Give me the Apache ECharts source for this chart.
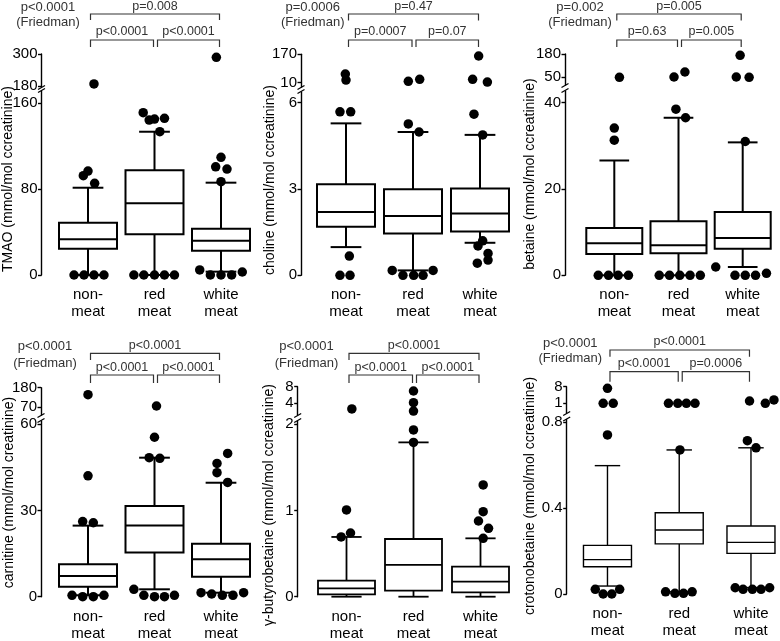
<!DOCTYPE html>
<html>
<head>
<meta charset="utf-8">
<title>Urinary TMAO and precursors by diet</title>
<script src="https://cdn.jsdelivr.net/npm/echarts@6/dist/echarts.min.js"></script>
<style>
  html, body { margin: 0; padding: 0; background: #fff; }
  #main { width: 780px; height: 641px; }
</style>
</head>
<body>
<div id="main"></div>
<script>
var FONT = "'Liberation Sans', Arial, Helvetica, sans-serif";
var groups = ['non-\nmeat', 'red\nmeat', 'white\nmeat'];

// box rows per group: [lower whisker, Q1, median, Q3, upper whisker]
// outliers per group: [horizontal spread around the group, value]
var tmaoBox = [[0, 24.5, 33.2, 48.7, 81.2], [0, 37.9, 66.7, 97.4, 133.3], [3.1, 22.6, 31.9, 43.1, 85.9]];
var tmaoOut = [
  [[-0.21, 0], [-0.06, 0], [0.09, 0], [0.24, 0], [-0.07, 92.4], [0, 96.7], [0.10, 85.3]],
  [[-0.31, 0], [-0.16, 0], [0, 0], [0.15, 0], [0.30, 0], [-0.17, 151], [-0.08, 144.2], [0, 145.1], [0.15, 145.8], [0.08, 133.3]],
  [[-0.32, 4.7], [-0.16, 0], [0, 0], [0.16, 0], [0.32, 2.8], [-0.08, 100.7], [0, 109.5], [0.09, 98.6], [0, 86.8]]
];
var tmaoTop = [[[0.09, 187.5]], [], [[-0.07, 287.6]]];

var cholineBox = [[0.98, 1.69, 2.2, 3.16, 5.28], [0.17, 1.45, 2.06, 2.99, 4.98], [1.13, 1.52, 2.15, 3.02, 4.88]];
var cholineOut = [
  [[0.05, 0.67], [-0.09, 0], [0.06, 0], [-0.09, 5.68], [0.07, 5.68]],
  [[-0.07, 5.26], [0.09, 4.98], [-0.31, 0.17], [-0.15, 0], [0.01, 0], [0.15, 0], [0.30, 0.17]],
  [[-0.09, 5.6], [0.04, 4.88], [0.04, 1.2], [-0.03, 1.02], [0.12, 0.76], [0.12, 0.53], [-0.04, 0.42]]
];
var cholineTop = [[[-0.01, 59], [0, 25.2]], [[-0.07, 17.9], [0.10, 29.2]], [[-0.02, 160.4], [-0.11, 29.2], [0.11, 13.9]]];

var betaineBox = [[0, 4.94, 7.4, 10.96, 26.6], [0, 5.1, 6.95, 12.5, 36.5], [1.92, 6.17, 8.64, 14.67, 30.8]];
var betaineOut = [
  [[0, 31.3], [0, 34.1], [-0.25, 0], [-0.09, 0], [0.06, 0], [0.22, 0]],
  [[-0.04, 38.5], [0.11, 36.5], [-0.30, 0], [-0.14, 0], [0.02, 0], [0.18, 0], [0.34, 0]],
  [[0.04, 31], [-0.42, 1.92], [-0.12, 0], [0.04, 0], [0.2, 0], [0.37, 0.46]]
];
var betaineTop = [[[0.08, 50]], [[-0.07, 51.7], [0.10, 79.6]], [[-0.04, 172.8], [-0.10, 51.7], [0.1, 50]]];

var carnitineBox = [[0.5, 3.47, 7.19, 11.25, 24.7], [2.57, 15.4, 24.7, 31.5, 48.3], [1.39, 6.95, 12.99, 18.4, 39.6]];
var carnitineOut = [
  [[0, 42], [-0.08, 26.1], [0.08, 25.7], [-0.24, 0.47], [-0.08, 0], [0.08, 0], [0.24, 0.47]],
  [[0, 55.4], [-0.08, 48.3], [0.08, 48.1], [-0.31, 2.57], [-0.16, 0.47], [0, 0], [0.15, 0], [0.30, 0.47]],
  [[0.10, 49.8], [-0.06, 46.3], [-0.06, 43.1], [0.10, 39.7], [-0.3, 1.39], [-0.14, 0.94], [0.02, 0.47], [0.18, 0.47], [0.34, 1.39]]
];
var carnitineTop = [[[0, 140.7]], [[0.03, 77.3]], []];

var gbbBox = [[0, 0.028, 0.097, 0.186, 0.693], [0, 0.07, 0.368, 0.669, 1.79], [0, 0.051, 0.174, 0.348, 0.677]];
var gbbOut = [
  [[0.06, 0.739], [-0.08, 0.693], [0, 1.006]],
  [[0, 1.934], [0, 1.79]],
  [[0.04, 1.296], [0.04, 0.986], [-0.03, 0.878], [0.12, 0.793], [0.04, 0.677]]
];
var gbbTop = [[[0.08, 2.63]], [[0, 6.96], [0, 4.15], [0, 2.14]], []];

var crotonoBox = [[0.037, 0.127, 0.16, 0.226, 0.597], [0.01, 0.233, 0.298, 0.378, 0.67], [0.03, 0.189, 0.24, 0.316, 0.68]];
var crotonoOut = [
  [[0, 0.74], [-0.17, 0.022], [-0.06, 0], [0.06, 0], [0.17, 0.022]],
  [[0.01, 0.67], [-0.19, 0.01], [-0.06, 0.003], [0.06, 0.003], [0.18, 0.01]],
  [[-0.05, 0.713], [0.07, 0.68], [-0.22, 0.029], [-0.11, 0.022], [0.02, 0.022], [0.14, 0.022], [0.26, 0.029]]
];
var crotonoTop = [[[0, 7.3], [-0.06, 1], [0.08, 1]], [[-0.15, 1], [-0.02, 1], [0.10, 1], [0.22, 1]], [[-0.02, 1.97], [0.2, 1], [0.32, 2.4]]];

// p values: [Friedman, non vs white, non vs red, red vs white]
var tmaoP = ['p<0.0001', 'p=0.008', 'p<0.0001', 'p<0.0001'];
var cholineP = ['p=0.0006', 'p=0.47', 'p=0.0007', 'p=0.07'];
var betaineP = ['p=0.002', 'p=0.005', 'p=0.63', 'p=0.005'];
var carnitineP = ['p<0.0001', 'p<0.0001', 'p<0.0001', 'p<0.0001'];
var gbbP = ['p<0.0001', 'p<0.0001', 'p<0.0001', 'p<0.0001'];
var crotonoP = ['p<0.0001', 'p<0.0001', 'p<0.0001', 'p=0.0006'];

var panels = [
  {name: 'TMAO (mmol/mol ccreatinine)', box: tmaoBox, out: tmaoOut, top: tmaoTop, p: tmaoP,
   ticks: [0, 80, 160], range: [0, 171.2], topTicks: [180, 300], topRange: [176, 300]},
  {name: 'choline (mmol/mol ccreatinine)', box: cholineBox, out: cholineOut, top: cholineTop, p: cholineP,
   ticks: [0, 3, 6], range: [0, 6.37], topTicks: [10, 170], topRange: [-14, 170]},
  {name: 'betaine (mmol/mol ccreatinine)', box: betaineBox, out: betaineOut, top: betaineTop, p: betaineP,
   ticks: [0, 20, 40], range: [0, 42.7], topTicks: [50, 180], topRange: [7, 180]},
  {name: 'carnitine (mmol/mol creatinine)', box: carnitineBox, out: carnitineOut, top: carnitineTop, p: carnitineP,
   ticks: [0, 30, 60], range: [0, 61.05], topTicks: [70, 180], topRange: [26.8, 180]},
  {name: 'γ-butyrobetaine (mmol/mol ccreatinine)', box: gbbBox, out: gbbOut, top: gbbTop, p: gbbP,
   ticks: [0, 1, 2], range: [0, 2.038], topTicks: [4, 8], topRange: [1.18, 8]},
  {name: 'crotonobetaine (mmol/mol ccreatinine)', box: crotonoBox, out: crotonoOut, top: crotonoTop, p: crotonoP,
   ticks: [0, 0.4, 0.8], range: [0, 0.8116], topTicks: [1, 8], topRange: [-3.09, 8]}
];

// pixel layout of each panel
// hdr: [top bar y, top leg y, top label y, mid bar y, mid leg y, mid label y]
var layout = [
  {ax: 41.5, left: 54.75, width: 199.5, lowTop: 91, lowBot: 275, upTop: 54, upBot: 87, lw: 2, bw: 58,
   name: [8, 179], fried: [48, 7, 22], hdr: [14, 20, 6.5, 40, 47, 32]},
  {ax: 301, left: 312.5, width: 201, lowTop: 92, lowBot: 275.3, upTop: 54.3, upBot: 87, lw: 2, bw: 58,
   name: [270, 180], fried: [312.7, 7, 22], hdr: [14, 20.5, 6.5, 40, 47, 32]},
  {ax: 565, left: 582.2, width: 192.6, lowTop: 91, lowBot: 275.3, upTop: 54, upBot: 85, lw: 2, bw: 56,
   name: [530, 174], fried: [580, 7, 22], hdr: [14, 20.5, 6.5, 40, 47, 32]},
  {ax: 41, left: 54.75, width: 199.5, lowTop: 421, lowBot: 596.7, upTop: 387.7, upBot: 415, lw: 2, bw: 58,
   name: [9.3, 492.5], fried: [45, 346.7, 363.3], hdr: [353.3, 360, 346, 375, 383, 367.7]},
  {ax: 297.7, left: 313, width: 201, lowTop: 421, lowBot: 596.7, upTop: 386.7, upBot: 415, lw: 1.8, bw: 57,
   name: [269.3, 505], fried: [306.5, 346.7, 363.3], hdr: [353.3, 360, 346, 375, 383, 367.7]},
  {ax: 566.7, left: 571.6, width: 215.25, lowTop: 419.5, lowBot: 594, upTop: 386.7, upBot: 413, lw: 1.4, bw: 48,
   name: [530, 496], fried: [570.3, 343.3, 358.3], hdr: [350, 356.7, 341.7, 371.7, 381.7, 363.3]}
];

function boxRenderer(lw, bw) {
  return function (params, api) {
    var g = api.value(0);
    var lo = api.coord([g, api.value(1)]);
    var q1 = api.coord([g, api.value(2)]);
    var md = api.coord([g, api.value(3)]);
    var q3 = api.coord([g, api.value(4)]);
    var hi = api.coord([g, api.value(5)]);
    var cx = lo[0], hw = bw / 2, cw = bw * 0.265;
    var st = {stroke: '#000', lineWidth: lw};
    return {
      type: 'group',
      children: [
        {type: 'line', shape: {x1: cx, y1: hi[1], x2: cx, y2: q3[1]}, style: st},
        {type: 'line', shape: {x1: cx, y1: q1[1], x2: cx, y2: lo[1]}, style: st},
        {type: 'line', shape: {x1: cx - cw, y1: hi[1], x2: cx + cw, y2: hi[1]}, style: st},
        {type: 'line', shape: {x1: cx - cw, y1: lo[1], x2: cx + cw, y2: lo[1]}, style: st},
        {type: 'rect', shape: {x: cx - hw, y: q3[1], width: bw, height: q1[1] - q3[1]},
         style: {stroke: '#000', lineWidth: lw, fill: '#fff'}},
        {type: 'line', shape: {x1: cx - hw, y1: md[1], x2: cx + hw, y2: md[1]}, style: st}
      ]
    };
  };
}

function flatten(outs) {
  var d = [];
  outs.forEach(function (list, g) {
    list.forEach(function (o) { d.push([g + o[0], o[1]]); });
  });
  return d;
}

var grids = [], xAxes = [], yAxes = [], series = [];
panels.forEach(function (p, i) {
  var L = layout[i];
  var lo = 2 * i, up = 2 * i + 1;
  grids.push({left: L.left, width: L.width, top: L.lowTop, height: L.lowBot - L.lowTop, containLabel: false, outerBoundsMode: 'none'});
  grids.push({left: L.left, width: L.width, top: L.upTop, height: L.upBot - L.upTop, containLabel: false, outerBoundsMode: 'none'});
  [lo, up].forEach(function (gi) {
    xAxes.push({
      gridIndex: gi, type: 'value', min: -0.5, max: 2.5, show: gi === lo,
      axisLine: {show: false, onZero: false}, axisTick: {show: false}, splitLine: {show: false},
      axisLabel: {
        customValues: [0, 1, 2], formatter: function (v) { return groups[Math.round(v)]; },
        fontSize: 15, lineHeight: 17, margin: 11.5, color: '#000', fontFamily: FONT
      }
    });
  });
  [[lo, p.range, p.ticks], [up, p.topRange, p.topTicks]].forEach(function (a) {
    yAxes.push({
      gridIndex: a[0], type: 'value', min: a[1][0], max: a[1][1], offset: L.left - L.ax,
      axisLine: {show: true, onZero: false, lineStyle: {color: '#000', width: 1.4}},
      axisTick: {show: true, customValues: a[2], length: 3.5, lineStyle: {color: '#000', width: 1.4}},
      axisLabel: {customValues: a[2], fontSize: 15, color: '#000', margin: 4, fontFamily: FONT},
      splitLine: {show: false}
    });
  });
  series.push({
    type: 'custom', xAxisIndex: lo, yAxisIndex: lo, silent: true, z: 2,
    renderItem: boxRenderer(L.lw, L.bw),
    encode: {x: 0, y: [1, 2, 3, 4, 5]},
    data: p.box.map(function (b, g) { return [g].concat(b); })
  });
  series.push({
    type: 'scatter', xAxisIndex: lo, yAxisIndex: lo, silent: true, z: 3, clip: false,
    symbolSize: 9.5, itemStyle: {color: '#000', opacity: 1}, data: flatten(p.out)
  });
  series.push({
    type: 'scatter', xAxisIndex: up, yAxisIndex: up, silent: true, z: 3, clip: false,
    symbolSize: 9.5, itemStyle: {color: '#000', opacity: 1}, data: flatten(p.top)
  });
});

var chart = echarts.init(document.getElementById('main'));
chart.setOption({
  animation: false,
  backgroundColor: '#fff',
  textStyle: {fontFamily: FONT},
  grid: grids,
  xAxis: xAxes,
  yAxis: yAxes,
  series: series
});

// annotations: axis titles, Friedman test, pairwise brackets, axis breaks
var gfx = [];
function txt(x, y, s, size, color, rot) {
  gfx.push({
    type: 'text', x: x, y: y, rotation: rot || 0, silent: true,
    style: {text: s, fontSize: size, fontFamily: FONT, fill: color, align: 'center', verticalAlign: 'middle'}
  });
}
function bracket(x1, x2, yBar, yLeg, label, yLabel) {
  gfx.push({
    type: 'polyline', silent: true,
    shape: {points: [[x1, yLeg], [x1, yBar], [x2, yBar], [x2, yLeg]]},
    style: {stroke: '#333', lineWidth: 1.2, fill: null}
  });
  txt((x1 + x2) / 2, yLabel, label, 12.5, '#333');
}
panels.forEach(function (p, i) {
  var L = layout[i], H = L.hdr;
  var c = [0, 1, 2].map(function (g) { return chart.convertToPixel({xAxisIndex: 2 * i}, g); });
  txt(L.name[0], L.name[1], p.name, 14, '#000', Math.PI / 2);
  txt(L.fried[0], L.fried[1], p.p[0], 13, '#333');
  txt(L.fried[0], L.fried[2], '(Friedman)', 13, '#333');
  bracket(c[0] + 2.5, c[2] - 1.5, H[0], H[1], p.p[1], H[2]);
  bracket(c[0] + 2.5, c[1] - 1, H[3], H[4], p.p[2], H[5]);
  bracket(c[1] + 3, c[2] - 1.5, H[3], H[4], p.p[3], H[5]);
  [L.upBot + 0.5, L.lowTop - 0.5].forEach(function (y) {
    gfx.push({
      type: 'line', silent: true,
      shape: {x1: L.ax - 3.5, y1: y + 2, x2: L.ax + 3.5, y2: y - 2},
      style: {stroke: '#000', lineWidth: 1.3}
    });
  });
});
chart.setOption({graphic: gfx});
</script>
</body>
</html>
